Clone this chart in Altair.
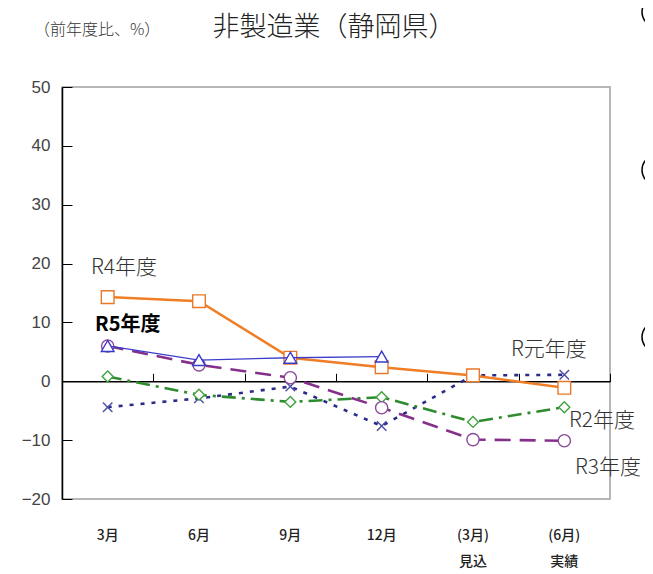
import altair as alt
import pandas as pd

cats = ["3月", "6月", "9月", "12月", "(3月)", "(6月)"]
sub_labels = ["", "", "", "", "見込", "実績"]
y_ticks = [-20, -10, 0, 10, 20, 30, 40, 50]

r_gan = [-4.4, -2.9, -0.9, -7.6, 1.0, 1.1]
r2 = [0.8, -2.3, -3.5, -2.7, -6.9, -4.4]
r3 = [6.0, 2.8, 0.6, -4.5, -9.9, -10.1]
r4 = [14.3, 13.6, 4.0, 2.4, 1.0, -1.1]
r5 = [6.0, 3.6, 4.0, 4.2, None, None]

W, H = 548, 412
YMIN, YMAX = -20, 50
zero_off = -H * YMAX / (YMAX - YMIN)

JP = "Noto Sans CJK JP"

yscale = alt.Scale(domain=[YMIN, YMAX], nice=False, zero=False)
xscale = alt.Scale(type="band", paddingInner=0, paddingOuter=0)

def frame(vals):
    rows = [{"cat": c, "value": v} for c, v in zip(cats, vals) if v is not None]
    return pd.DataFrame(rows)

def series(vals, color, mcolor, width, dash, shape, size):
    df = frame(vals)
    base = alt.Chart(df).encode(
        x=alt.X("cat:N", sort=cats, scale=xscale, axis=None),
        y=alt.Y("value:Q", scale=yscale, axis=None),
    )
    line_kw = dict(color=color, strokeWidth=width)
    if dash:
        line_kw["strokeDash"] = dash
    line = base.mark_line(**line_kw)
    pt = base.mark_point(shape=shape, size=size, filled=True, fill="white",
                         stroke=mcolor, strokeWidth=1.4, opacity=1)
    return [line, pt]

xpath = "M-1,-1L1,1M-1,1L1,-1"

layers = []
layers += series(r_gan, "#2B2B88", "#4B4BA8", 2.6, [4, 7], xpath, 90)
layers += series(r2, "#2E8B2E", "#3FA33F", 2.6, [14, 6, 3, 6], "diamond", 120)
layers += series(r3, "#85308A", "#8B4A9B", 2.6, [16, 9], "circle", 150)
layers += series(r4, "#F07E26", "#E8782A", 2.5, None, "square", 160)
layers += series(r5, "#3D3DCC", "#3A3AC8", 1.3, None, "triangle-up", 160)

cat_df = pd.DataFrame({"cat": cats})
yt_df = pd.DataFrame({"value": y_ticks})

expr_parts = []
for c, s in zip(cats, sub_labels):
    if s:
        expr_parts.append(f"datum.value == '{c}' ? ['{c}', '{s}'] : ")
label_expr = "".join(expr_parts) + "datum.label"

x_bottom = alt.Chart(cat_df).mark_tick(opacity=0).encode(
    x=alt.X("cat:N", sort=cats, scale=xscale, title=None,
            axis=alt.Axis(orient="bottom", ticks=False, domain=False, grid=False,
                          labelPadding=29, labelFont=JP, labelFontSize=14,
                          labelFontWeight=500,
                          labelColor="#222222", labelAngle=0, labelExpr=label_expr,
                          labelLineHeight=26))
)
x_top = alt.Chart(cat_df).mark_tick(opacity=0).encode(
    x=alt.X("cat:N", sort=cats, scale=xscale, title=None,
            axis=alt.Axis(orient="top", offset=zero_off, labels=False, ticks=True,
                          tickBand="extent", tickSize=8, tickColor="black", tickWidth=1,
                          domain=True, domainColor="black", domainWidth=1.5, grid=False))
)
y_left = alt.Chart(yt_df).mark_tick(opacity=0).encode(
    y=alt.Y("value:Q", scale=yscale, title=None,
            axis=alt.Axis(orient="left", values=y_ticks, ticks=False, domain=True,
                          domainColor="black", domainWidth=1.5, grid=False,
                          labelPadding=12, labelFont="Liberation Sans", labelFontSize=17,
                          labelColor="#444444"))
)
y_right = alt.Chart(yt_df).mark_tick(opacity=0).encode(
    y=alt.Y("value:Q", scale=yscale, title=None,
            axis=alt.Axis(orient="right", offset=-W, values=y_ticks, ticks=True,
                          tickSize=10, tickColor="black", tickWidth=1, labels=False,
                          domain=False, grid=False))
)

one = alt.Data(values=[{}])

def txt(text, x, y, size, font=JP, weight="normal", color="#333333", align="left",
        baseline="middle"):
    return alt.Chart(one).mark_text(text=text, font=font, fontSize=size, fontWeight=weight,
                                    color=color, align=align, baseline=baseline).encode(
        x=alt.value(x), y=alt.value(y))

texts = [
    txt("非製造業（静岡県）", 272, -51, 27, weight=300, color="#222222", align="center",
        baseline="alphabetic"),
    txt("（前年度比、%）", -28, -57, 16, weight=300, color="#333333"),
    txt("R4年度", 29, 181, 21, weight=300),
    txt("R5年度", 33, 238, 20, weight="bold", color="#000000"),
    txt("R元年度", 449, 263, 21, weight=300),
    txt("R2年度", 507, 334, 21, weight=300),
    txt("R3年度", 513, 381, 21, weight=300),
]

circles = [
    alt.Chart(one).mark_point(shape="circle", size=900, filled=False, stroke="black",
                              strokeWidth=1.5, opacity=1).encode(x=alt.value(595), y=alt.value(cy))
    for cy in (-75, 83, 250)
]

chart = alt.layer(
    x_top, y_right, *layers, x_bottom, y_left, *texts, *circles
).resolve_axis(x="independent", y="independent").properties(
    width=W, height=H,
    autosize=alt.AutoSizeParams(type="none"),
    padding={"left": 54, "top": 79, "right": 35, "bottom": 72},
).configure_view(stroke="#A0A0A0", strokeWidth=1.5)

chart.save("out.html", embed_options={"renderer": "svg", "actions": False})
